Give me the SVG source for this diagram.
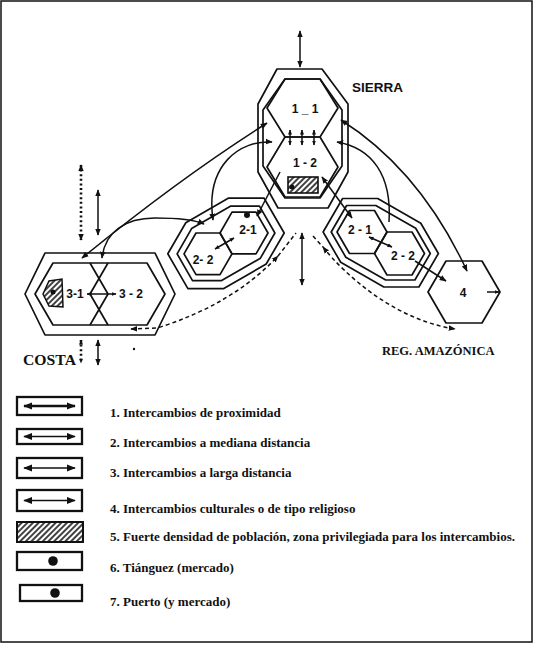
<svg xmlns="http://www.w3.org/2000/svg" width="537" height="647" viewBox="0 0 537 647">
<defs>
<style>
.ln{fill:none;stroke:#111;stroke-width:1.7;stroke-linejoin:round}
.cn{fill:none;stroke:#111;stroke-width:1.5}
.dot{fill:none;stroke:#111;stroke-width:2.6;stroke-dasharray:2 2.6}
.dash{fill:none;stroke:#111;stroke-width:1.5;stroke-dasharray:4 3}
.lab{font-family:"Liberation Sans",Arial,sans-serif;font-weight:bold;font-size:12px;fill:#111;text-anchor:middle}
.reg{font-family:"Liberation Serif","Times New Roman",serif;font-weight:bold;fill:#111}
.leg{font-family:"Liberation Serif","Times New Roman",serif;font-weight:bold;font-size:13px;fill:#111}
.box{fill:#fff;stroke:#111;stroke-width:2.3}
</style>
<marker id="ah" viewBox="0 0 10 10" refX="9" refY="5" markerWidth="7" markerHeight="7" markerUnits="userSpaceOnUse" orient="auto-start-reverse"><path d="M0,1 L10,5 L0,9 z" fill="#111"/></marker>
<marker id="as" viewBox="0 0 10 10" refX="9" refY="5" markerWidth="5" markerHeight="5" markerUnits="userSpaceOnUse" orient="auto-start-reverse"><path d="M0,1 L10,5 L0,9 z" fill="#111"/></marker>
<marker id="lh" viewBox="0 0 10 10" refX="9" refY="5" markerWidth="9" markerHeight="8" markerUnits="userSpaceOnUse" orient="auto-start-reverse" preserveAspectRatio="none"><path d="M0,0.5 L10,5 L0,9.5 z" fill="#111"/></marker>
<pattern id="hatch" patternUnits="userSpaceOnUse" width="4" height="4" patternTransform="rotate(45)"><rect width="4" height="4" fill="#fff"/><line x1="1" y1="0" x2="1" y2="4" stroke="#111" stroke-width="1.6"/></pattern>
</defs>
<rect x="0" y="0" width="537" height="647" fill="#fff"/>
<rect x="1" y="1" width="531" height="641" fill="none" stroke="#111" stroke-width="1.5"/>

<g id="sierra">
<polygon class="ln" points="277,69 322,69 348,104 348,172 328,208 278,208 258,172 258,104"/>
<polygon class="ln" points="285,79 320,79 342,110 342,166 320,198 285,198 263,166 263,110"/>
<polygon class="ln" points="285,79 320,79 338,108 320,137 285,137 267,108"/>
<polygon class="ln" points="285,137 320,137 338,167 320,197 285,197 267,167"/>
<text class="lab" x="305" y="113">1 _ 1</text>
<text class="lab" x="305" y="167">1 - 2</text>
<rect x="288" y="177" width="30" height="16" fill="url(#hatch)" stroke="#111" stroke-width="1.6"/>
<circle cx="292" cy="187" r="2.5" fill="#111"/>
<text x="352" y="92" font-family="'Liberation Sans',Arial,sans-serif" font-weight="bold" font-size="13.5" fill="#111">SIERRA</text>
</g>

<g id="costa">
<polygon class="ln" points="45,253 155,253 175,294 155,335 45,335 25,294"/>
<polygon class="ln" points="53,263 147,263 165,294 147,325 53,325 35,294"/>
<polyline class="ln" points="90,263 108,294 90,325"/>
<polyline class="ln" points="108,263 90,294 108,325"/>
<polygon points="43,294 49,281 62,279 63,307 49,306" fill="url(#hatch)" stroke="#111" stroke-width="1.5"/>
<circle cx="53" cy="292" r="2.5" fill="#111"/>
<text class="lab" x="75" y="298">3-1</text>
<text class="lab" x="131" y="298">3 - 2</text>
<text class="reg" x="23" y="365" font-size="15.5" textLength="53" lengthAdjust="spacingAndGlyphs">COSTA</text>
<circle cx="134" cy="349" r="1.2" fill="#111"/>
</g>

<g id="sierra-media">
<polygon class="ln" points="228.2,198.2 264.1,198.2 284.2,233 266.2,264 223.8,288.6 187.9,288.6 167.8,253.8 185.8,222.8"/>
<polygon class="ln" points="230.4,206.2 259.5,206.2 274.9,233 260.4,258.2 221.6,280.6 192.5,280.6 177.1,253.8 191.6,228.6"/>
<polygon class="ln" points="232,212.2 256,212.2 268,233 256,253.8 232,253.8 220,233"/>
<polygon class="ln" points="196,233 220,233 232,253.8 220,274.6 196,274.6 184,253.8"/>
<circle cx="247" cy="215" r="3" fill="#111"/>
<text class="lab" x="248" y="234">2-1</text>
<text class="lab" x="203" y="264">2- 2</text>
</g>

<g id="amazonia-media">
<polygon class="ln" points="342.6,198.5 377.7,198.5 420.8,223.2 438.4,253.5 418.9,287 383.8,287 340.7,262.3 323.1,232"/>
<polygon class="ln" points="346.6,205.5 375.8,205.5 415.7,228.3 430.3,253.5 414.9,280 385.7,280 345.8,257.2 331.2,232"/>
<polygon class="ln" points="349.5,210.5 374.5,210.5 387,232 374.5,253.5 349.5,253.5 337,232"/>
<polygon class="ln" points="387,232 412,232 424.5,253.5 412,275 387,275 374.5,253.5"/>
<text class="lab" x="360" y="234">2 - 1</text>
<text class="lab" x="403" y="260">2 - 2</text>
</g>

<g id="amazonia">
<polygon class="ln" points="446,261 482,261 500,292 482,323 446,323 428,292"/>
<text class="lab" x="463" y="297">4</text>
<text class="reg" x="382" y="355" font-size="12.5">REG. AMAZÓNICA</text>
</g>

<g id="connectors">
<line class="cn" x1="300" y1="31" x2="300" y2="67" marker-start="url(#ah)" marker-end="url(#ah)"/>
<line class="cn" x1="290" y1="130" x2="290" y2="145" marker-start="url(#as)" marker-end="url(#as)"/>
<line class="cn" x1="302" y1="130" x2="302" y2="145" marker-start="url(#as)" marker-end="url(#as)"/>
<line class="cn" x1="314" y1="130" x2="314" y2="145" marker-start="url(#as)" marker-end="url(#as)"/>
<line class="cn" x1="302" y1="233" x2="302" y2="285" marker-start="url(#ah)" marker-end="url(#ah)"/>
<line class="dot" x1="81" y1="165" x2="81" y2="240" marker-start="url(#ah)" marker-end="url(#ah)"/>
<line class="cn" x1="98" y1="190" x2="98" y2="235" marker-start="url(#ah)" marker-end="url(#ah)"/>
<line class="dot" x1="81" y1="340" x2="81" y2="363" marker-start="url(#as)" marker-end="url(#as)"/>
<line class="cn" x1="98" y1="340" x2="98" y2="365" marker-start="url(#ah)" marker-end="url(#ah)"/>
<line class="cn" x1="87" y1="294" x2="116" y2="294" marker-start="url(#as)" marker-end="url(#as)"/>
<path class="cn" d="M267,123 Q180,178 82,258" marker-start="url(#ah)" marker-end="url(#ah)"/>
<path class="cn" d="M272,142 C240,140 205,165 213,220" marker-start="url(#ah)" marker-end="url(#ah)"/>
<path class="cn" d="M102,258 C105,232 125,218 155,218 C180,218 195,220 204,224" marker-start="url(#ah)" marker-end="url(#ah)"/>
<line class="cn" x1="280" y1="172" x2="257" y2="216" marker-end="url(#ah)"/>
<line class="cn" x1="322" y1="177" x2="352" y2="218" marker-start="url(#ah)" marker-end="url(#ah)"/>
<path class="cn" d="M337,142 C372,148 392,175 389,222" marker-start="url(#ah)"/>
<path class="cn" d="M341,120 Q420,170 467,271" marker-start="url(#ah)" marker-end="url(#ah)"/>
<line class="cn" x1="415" y1="261" x2="446" y2="281" marker-end="url(#ah)"/>
<line class="cn" x1="487" y1="292" x2="499" y2="292" marker-end="url(#as)"/>
<line class="cn" x1="234" y1="238" x2="215" y2="249" marker-start="url(#as)" marker-end="url(#as)"/>
<line class="cn" x1="369" y1="237" x2="392" y2="247" marker-start="url(#as)" marker-end="url(#as)"/>
<path class="dash" d="M131,329 L157,328 Q232,305 278,256" marker-start="url(#ah)" marker-end="url(#ah)"/>
<path class="dash" d="M278,256 L296,233"/>
<path class="dash" d="M313,236 L323,247"/>
<path class="dash" d="M323,247 C345,275 395,320 455,329" marker-start="url(#ah)" marker-end="url(#ah)"/>
</g>

<g id="legend">
<g id="leg1">
<rect class="box" x="17" y="397" width="65" height="18" stroke-width="2.8"/>
<line x1="24" y1="406" x2="75" y2="406" stroke="#111" stroke-width="2.6" marker-start="url(#lh)" marker-end="url(#lh)"/>
<text class="leg" x="110" y="417">1. Intercambios de proximidad</text>
</g>
<g id="leg2">
<rect class="box" x="17" y="429" width="65" height="15"/>
<line x1="24" y1="436.5" x2="75" y2="436.5" stroke="#111" stroke-width="1.5" marker-start="url(#lh)" marker-end="url(#lh)"/>
<text class="leg" x="110" y="447">2. Intercambios a mediana distancia</text>
</g>
<g id="leg3">
<rect class="box" x="17" y="458" width="65" height="20"/>
<line x1="24" y1="468" x2="75" y2="468" stroke="#111" stroke-width="1.3" marker-start="url(#lh)" marker-end="url(#lh)"/>
<text class="leg" x="110" y="477">3. Intercambios a larga distancia</text>
</g>
<g id="leg4">
<rect class="box" x="17" y="490" width="65" height="21"/>
<line x1="24" y1="500.5" x2="75" y2="500.5" stroke="#111" stroke-width="1.3" marker-start="url(#lh)" marker-end="url(#lh)"/>
<text class="leg" x="110" y="513">4. Intercambios culturales o de tipo religioso</text>
</g>
<g id="leg5">
<rect x="17" y="522" width="66" height="20" fill="url(#hatch)" stroke="#111" stroke-width="2"/>
<text class="leg" x="110" y="541">5. Fuerte densidad de población, zona privilegiada para los intercambios.</text>
</g>
<g id="leg6">
<rect class="box" x="17" y="552" width="65" height="18"/>
<circle cx="53" cy="561" r="4.8" fill="#111"/>
<text class="leg" x="110" y="572">6. Tiánguez (mercado)</text>
</g>
<g id="leg7">
<rect class="box" x="20" y="585" width="62" height="16"/>
<circle cx="55" cy="593" r="4.8" fill="#111"/>
<text class="leg" x="110" y="606">7. Puerto (y mercado)</text>
</g>
</g>
</svg>
